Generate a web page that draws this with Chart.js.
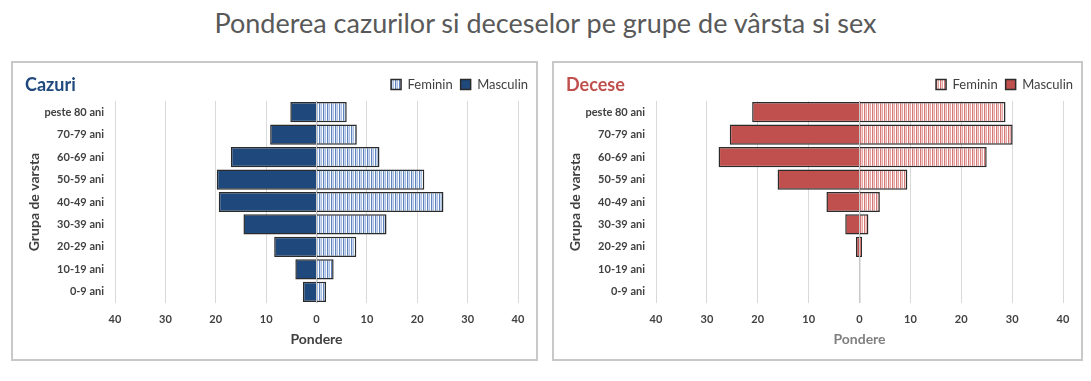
<!DOCTYPE html>
<html>
<head>
<meta charset="utf-8">
<script src="https://cdn.jsdelivr.net/npm/chart.js@4"></script>
<style>
  body { margin: 0; background: #fff; font-family: Lato, sans-serif; }
  #title { position: absolute; left: 0; top: 6px; width: 1091px; text-align: center; font-size: 27px; color: #595959; }
  .panel { position: absolute; top: 61px; height: 300px; border: 2px solid #c8c8c8; box-sizing: border-box; }
  .panel canvas { display: block; }
  .ptitle { position: absolute; top: 10px; left: 12px; font-weight: bold; font-size: 18px; }
</style>
</head>
<body>
<div id="title">Ponderea cazurilor si deceselor pe grupe de vârsta si sex</div>
<div class="panel" style="left:11px;width:527px">
  <canvas id="c1" width="523" height="296"></canvas>
  <div class="ptitle" style="color:#1f497d">Cazuri</div>
</div>
<div class="panel" style="left:552px;width:531px">
  <canvas id="c2" width="527" height="296"></canvas>
  <div class="ptitle" style="color:#c0504d">Decese</div>
</div>
<script>
// age groups, top to bottom
const groups = ['peste 80 ani', '70-79 ani', '60-69 ani', '50-59 ani', '40-49 ani', '30-39 ani', '20-29 ani', '10-19 ani', '0-9 ani'];
const xTicks = [-40, -30, -20, -10, 0, 10, 20, 30, 40];

// cazuri (%), masculin drawn to the left
const cazuriFeminin = [6.0, 8.0, 12.5, 21.4, 25.2, 13.9, 7.9, 3.4, 1.9];
const cazuriMasculin = [5.2, 9.2, 17.0, 19.8, 19.4, 14.5, 8.4, 4.2, 2.7];

// decese (%)
const deceseFeminin = [28.7, 30.1, 25.0, 9.4, 4.0, 1.75, 0.5, 0, 0];
const deceseMasculin = [21.1, 25.5, 27.7, 16.1, 6.5, 2.8, 0.7, 0, 0];

function stripes(colors) {
    let c = document.createElement('canvas');
    c.width = colors.length;
    c.height = 1;
    let ctx = c.getContext('2d');
    colors.forEach((col, i) => {
        ctx.fillStyle = col;
        ctx.fillRect(i, 0, 1, 1);
    });
    return ctx.createPattern(c, 'repeat');
}

function makeChart(id, fem, masc, femFill, mascColor, axisColor) {
    let ctx = document.getElementById(id).getContext('2d');
    return new Chart(ctx, {
        type: 'bar',
        data: {
            labels: groups,
            datasets: [{
                label: 'Feminin',
                data: fem,
                backgroundColor: femFill,
                borderColor: '#2b2b2b',
                borderWidth: 1.5
            }, {
                label: 'Masculin',
                data: masc.map(v => -v),
                backgroundColor: mascColor,
                borderColor: '#2b2b2b',
                borderWidth: 1.5
            }]
        },
        options: {
            indexAxis: 'y',
            responsive: false,
            animation: false,
            barPercentage: 0.9,
            categoryPercentage: 1.0,
            layout: { padding: { top: 7, right: 0, left: 0, bottom: 0 } },
            plugins: {
                legend: {
                    position: 'top',
                    align: 'end',
                    labels: {
                        boxWidth: 10,
                        boxHeight: 10,
                        padding: 8,
                        color: '#404040',
                        font: { family: 'Lato', size: 13 }
                    }
                },
                tooltip: { enabled: false }
            },
            scales: {
                x: {
                    stacked: true,
                    min: -40,
                    max: 40,
                    afterBuildTicks: axis => { axis.ticks = xTicks.map(v => ({ value: v })); },
                    afterFit: axis => { axis.height = 56; },
                    border: { display: false },
                    grid: { color: '#d9d9d9', drawTicks: false },
                    ticks: {
                        padding: 10,
                        color: '#404040',
                        font: { family: 'Lato', size: 11, weight: 'bold' },
                        callback: v => Math.abs(v)
                    },
                    title: {
                        display: true,
                        text: 'Pondere',
                        color: axisColor,
                        padding: { top: 0, bottom: 11 },
                        font: { family: 'Lato', size: 14, weight: 'bold' }
                    }
                },
                // zero line drawn over the bars
                x0: {
                    position: 'bottom',
                    min: -40,
                    max: 40,
                    z: 1,
                    afterBuildTicks: axis => { axis.ticks = [{ value: 0 }]; },
                    afterFit: axis => { axis.height = 0; },
                    border: { display: false },
                    grid: { color: '#c8c8c8', drawTicks: false, lineWidth: 1.5 },
                    ticks: { display: false }
                },
                y: {
                    stacked: true,
                    afterFit: axis => { axis.width = 102; },
                    border: { display: false },
                    grid: { display: false },
                    ticks: {
                        padding: 3,
                        color: '#404040',
                        font: { family: 'Lato', size: 11, weight: 'bold' }
                    },
                    title: {
                        display: true,
                        text: 'Grupa de varsta',
                        color: '#404040',
                        padding: { top: 13, bottom: 0 },
                        font: { family: 'Lato', size: 14, weight: 'bold' }
                    }
                },
                // empty right margin so the legend can sit further right
                yr: {
                    position: 'right',
                    type: 'linear',
                    afterFit: axis => { axis.width = 18; },
                    border: { display: false },
                    grid: { display: false },
                    ticks: { display: false }
                }
            }
        }
    });
}

makeChart('c1', cazuriFeminin, cazuriMasculin,
    stripes(['#a9c0e0', '#ffffff', '#5f84bd', '#cbd9ee']), '#1f497d', '#404040');
makeChart('c2', deceseFeminin, deceseMasculin,
    stripes(['#e8a6a5', '#ffffff', '#d27978', '#f3cfce']), '#c0504d', '#7f7f7f');
</script>
</body>
</html>
